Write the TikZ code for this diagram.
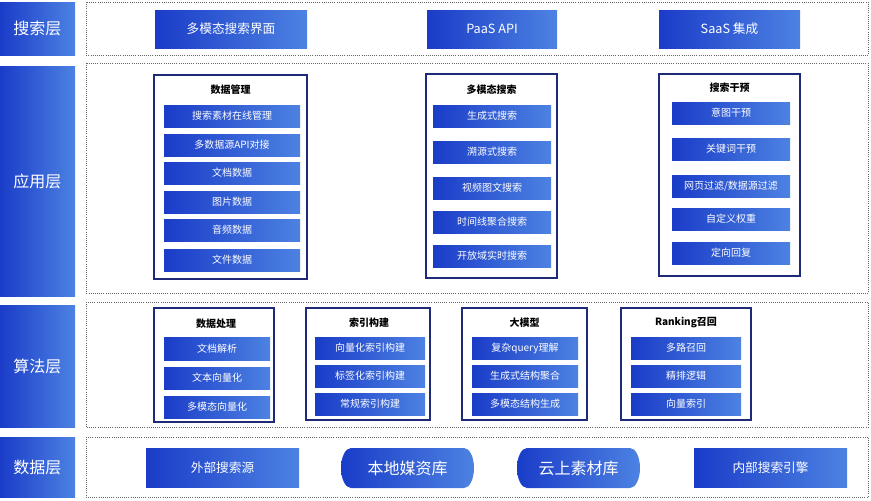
\documentclass[tikz,border=0pt]{standalone}
\usepackage{fontspec}
\setmainfont{Noto Sans CJK SC}
\usetikzlibrary{shapes.geometric}
\definecolor{bdark}{HTML}{1A3CC8}
\definecolor{blight}{HTML}{4D82E2}
\definecolor{frame}{HTML}{1E2A78}
\tikzset{
 gb/.style={left color=bdark,right color=blight,draw=none,text=white},
 lay/.style={gb,font=\fontsize{12}{14}\selectfont},
 top/.style={gb,font=\fontsize{9.5}{11}\selectfont},
 inner/.style={gb,font=\fontsize{7.5}{9}\selectfont},
 grp/.style={draw=frame,line width=1.2pt,fill=white},
 ttl/.style={font=\bfseries\fontsize{7.5}{9}\selectfont},
 dot/.style={draw=gray!80!black,densely dotted,line width=0.6pt},
}
\newcommand{\bx}[6]{\path[#1] (#2,#3) rectangle (#4,#5) node[midway,text=white]{#6};}
\begin{document}
\begin{tikzpicture}[x=0.75pt,y=-0.75pt]
\useasboundingbox (0,0) rectangle (871,500);
% layer labels
\bx{lay}{0}{2}{75}{55}{搜索层}
\bx{lay}{0}{66}{75}{296}{应用层}
\bx{lay}{0}{305}{75}{427}{算法层}
\bx{lay}{0}{437}{75}{497}{数据层}
% dotted frames
\draw[dot] (86,2) rectangle (868,55);
\draw[dot] (86,63) rectangle (868,293);
\draw[dot] (86,302) rectangle (868,427);
\draw[dot] (86,437) rectangle (868,497);
% search layer
\bx{top}{155}{10}{307}{48}{多模态搜索界面}
\bx{top}{427}{10}{557}{48}{PaaS API}
\bx{top}{659}{10}{800}{48}{SaaS 集成}
% app layer groups
\draw[grp] (154,75) rectangle (307,279);
\node[ttl] (t1) at (230.5,90) {数据管理};
\bx{inner}{164}{105}{300}{127}{搜索素材在线管理}
\bx{inner}{164}{134}{300}{156}{多数据源API对接}
\bx{inner}{164}{162}{300}{184}{文档数据}
\bx{inner}{164}{191}{300}{213}{图片数据}
\bx{inner}{164}{219}{300}{241}{音频数据}
\bx{inner}{164}{249}{300}{271}{文件数据}
\draw[grp] (426,74) rectangle (557,278);
\node[ttl] (t2) at (491.5,90) {多模态搜索};
\bx{inner}{433}{105}{551}{127}{生成式搜索}
\bx{inner}{433}{141}{551}{163}{溯源式搜索}
\bx{inner}{433}{177}{551}{199}{视频图文搜索}
\bx{inner}{433}{211}{551}{233}{时间线聚合搜索}
\bx{inner}{433}{245}{551}{267}{开放域实时搜索}
\draw[grp] (659,74) rectangle (800,276);
\node[ttl] (t3) at (729.5,88) {搜索干预};
\bx{inner}{672}{102}{790}{124}{意图干预}
\bx{inner}{672}{138}{790}{160}{关键词干预}
\bx{inner}{672}{175}{790}{197}{网页过滤/数据源过滤}
\bx{inner}{672}{208}{790}{230}{自定义权重}
\bx{inner}{672}{242}{790}{264}{定向回复}
% algorithm layer
\draw[grp] (154,308) rectangle (274,422);
\node[ttl] (a1) at (216,324) {数据处理};
\bx{inner}{164}{337}{270}{360}{文档解析}
\bx{inner}{164}{367}{270}{389}{文本向量化}
\bx{inner}{164}{396}{270}{418}{多模态向量化}
\draw[grp] (306,308) rectangle (430,420);
\node[ttl] (a2) at (369,323) {索引构建};
\bx{inner}{315}{337}{425}{359}{向量化索引构建}
\bx{inner}{315}{365}{425}{387}{标签化索引构建}
\bx{inner}{315}{393}{425}{415}{常规索引构建}
\draw[grp] (462,308) rectangle (587,420);
\node[ttl] (a3) at (524.5,323) {大模型};
\bx{inner}{472}{337}{578}{359}{复杂query理解}
\bx{inner}{472}{365}{578}{387}{生成式结构聚合}
\bx{inner}{472}{393}{578}{415}{多模态结构生成}
\draw[grp] (621,308) rectangle (751,420);
\node[ttl] (a4) at (686,323) {Ranking召回};
\bx{inner}{631}{337}{741}{359}{多路召回}
\bx{inner}{631}{365}{741}{387}{精排逻辑}
\bx{inner}{631}{393}{741}{415}{向量索引}
% data layer
\bx{top}{146}{448}{299}{487}{外部搜索源}
\path[gb] (351,448) -- (464,448) arc[start angle=90,end angle=-90,x radius=7.5pt,y radius=15pt] -- (351,488) arc[start angle=270,end angle=90,x radius=7.5pt,y radius=15pt] -- cycle;
\node[text=white,font=\fontsize{12}{14}\selectfont] (d2) at (407.5,468) {本地媒资库};
\path[gb] (527,448) -- (630,448) arc[start angle=90,end angle=-90,x radius=7.5pt,y radius=15pt] -- (527,488) arc[start angle=270,end angle=90,x radius=7.5pt,y radius=15pt] -- cycle;
\node[text=white,font=\fontsize{12}{14}\selectfont] (d3) at (578.5,468) {云上素材库};
\bx{top}{694}{448}{847}{487}{内部搜索引擎}
\end{tikzpicture}
\end{document}
